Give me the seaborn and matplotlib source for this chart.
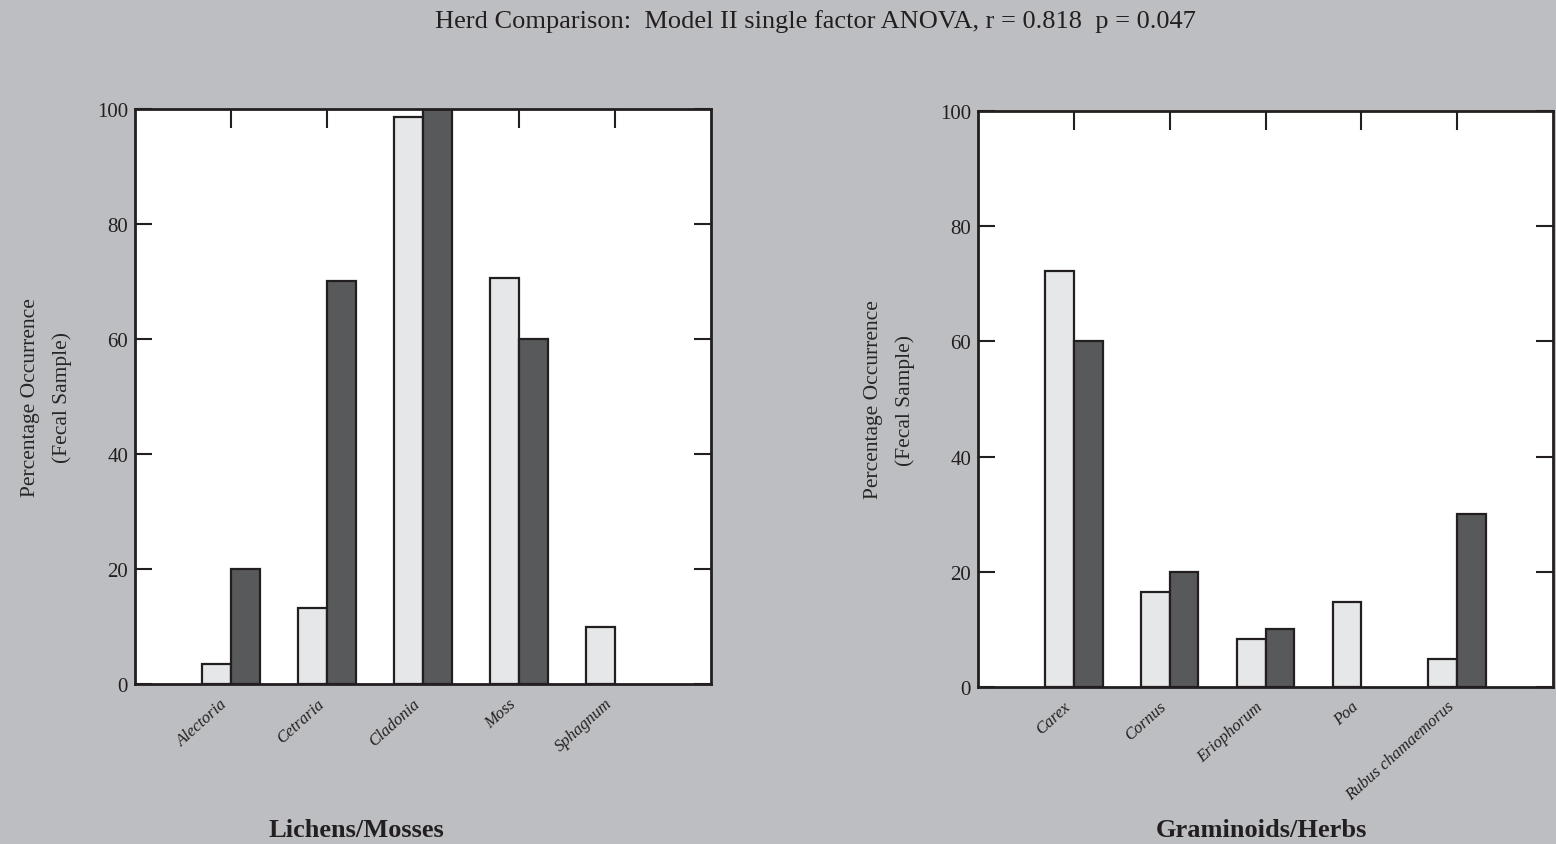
import matplotlib
matplotlib.use("Agg")
import matplotlib.pyplot as plt
import seaborn as sns
import pandas as pd

# Percentage occurrence in fecal samples, two herds
lichen_taxa = ["Alectoria", "Cetraria", "Cladonia", "Moss", "Sphagnum"]
lichen_herd1 = [3.4, 13.2, 98.6, 70.6, 9.9]
lichen_herd2 = [20.0, 70.1, 100.0, 60.0, None]

herb_taxa = ["Carex", "Cornus", "Eriophorum", "Poa", "Rubus chamaemorus"]
herb_herd1 = [72.2, 16.5, 8.3, 14.8, 4.9]
herb_herd2 = [60.0, 20.0, 10.0, None, 30.0]

herds = ["Herd 1", "Herd 2"]
y_ticks = [0, 20, 40, 60, 80, 100]

title = "Herd Comparison:  Model II single factor ANOVA, r = 0.818  p = 0.047"
ylabel = "Percentage Occurrence\n(Fecal Sample)"
group_labels = ["Lichens/Mosses", "Graminoids/Herbs"]

BG = "#bdbec1"
LIGHT = "#e6e7e9"
DARK = "#58595b"
EDGE = "#231f20"

sns.set_theme(style="white")
plt.rcParams["font.family"] = ["Liberation Serif", "DejaVu Serif"]


def long_frame(taxa, v1, v2):
    rows = []
    for t, a, b in zip(taxa, v1, v2):
        if a is not None:
            rows.append({"taxon": t, "herd": herds[0], "pct": a})
        if b is not None:
            rows.append({"taxon": t, "herd": herds[1], "pct": b})
    return pd.DataFrame(rows)


fig = plt.figure(figsize=(15.56, 8.45), dpi=100, facecolor=BG)
W, H = 1556, 845
ax_left = fig.add_axes([135 / W, (H - 685) / H, 576 / W, 575 / H])
ax_right = fig.add_axes([978 / W, (H - 688) / H, 575 / W, 576 / H])

panels = [
    (ax_left, lichen_taxa, lichen_herd1, lichen_herd2),
    (ax_right, herb_taxa, herb_herd1, herb_herd2),
]

for ax, taxa, v1, v2 in panels:
    df = long_frame(taxa, v1, v2)
    sns.barplot(
        data=df, x="taxon", y="pct", hue="herd",
        order=taxa, hue_order=herds,
        palette=[LIGHT, DARK], width=0.6, gap=0,
        edgecolor=EDGE, linewidth=1.6, legend=False, ax=ax,
        err_kws={"linewidth": 0},
    )
    ax.set_facecolor("white")
    ax.set_xlim(-1, len(taxa))
    ax.set_ylim(0, 100)
    ax.set_yticks(y_ticks)
    ax.set_xlabel("")
    ax.set_ylabel(ylabel, fontsize=15.5, linespacing=1.85)
    ax.yaxis.set_label_coords(-0.109, 0.5)
    for s in ax.spines.values():
        s.set_visible(True)
        s.set_color(EDGE)
        s.set_linewidth(2.0)
    ax.tick_params(axis="y", direction="in", left=True, right=True,
                   length=12, width=1.5, color=EDGE, labelsize=15,
                   labelcolor=EDGE, pad=5)
    ax.tick_params(axis="x", direction="in", bottom=False, top=True,
                   length=14, width=1.5, color=EDGE, labelbottom=True,
                   pad=8)
    ax.set_xticks(range(len(taxa)))
    ax.set_xticklabels(taxa, rotation=42, ha="right", va="top",
                       fontstyle="italic", fontsize=12, color=EDGE)

fig.text(815 / W, 1 - 28 / H, title, ha="center", va="baseline",
         fontsize=19, color=EDGE)
fig.text(356 / W, 1 - 837 / H, group_labels[0], ha="center", va="baseline",
         fontsize=19, fontweight="bold", color=EDGE)
fig.text(1261 / W, 1 - 837 / H, group_labels[1], ha="center", va="baseline",
         fontsize=19, fontweight="bold", color=EDGE)

fig.savefig("out.png", dpi=100, facecolor=BG)
